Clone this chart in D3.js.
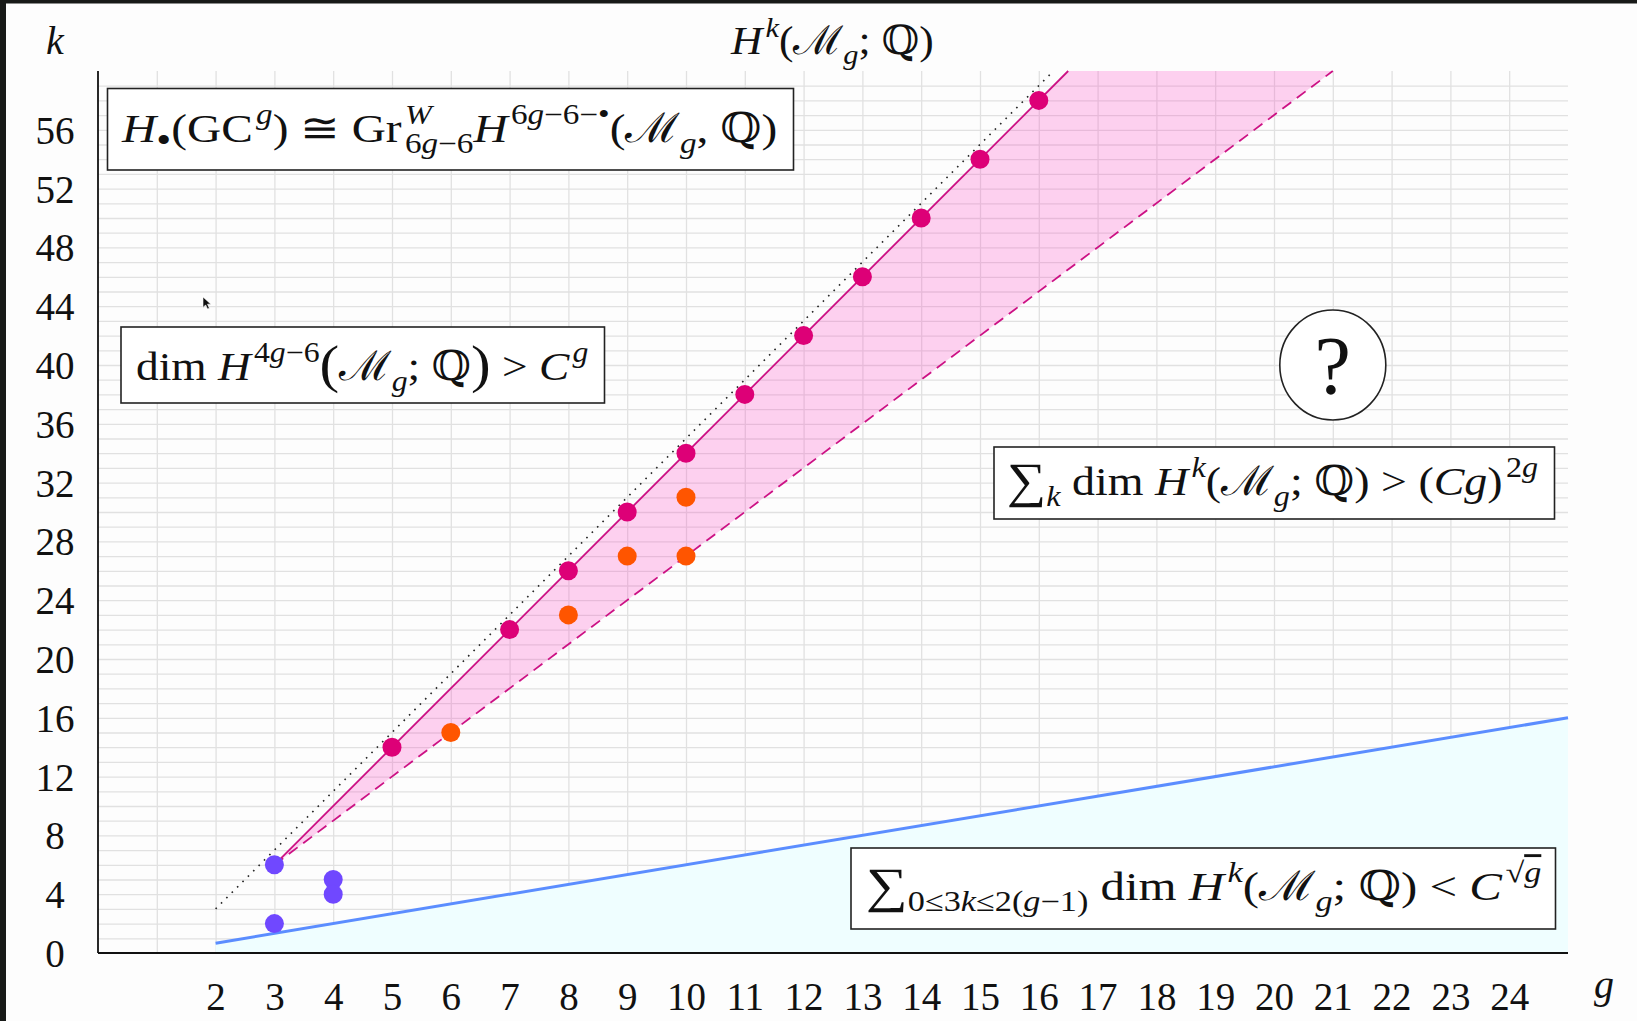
<!DOCTYPE html>
<html>
<head>
<meta charset="utf-8">
<script src="https://cdn.jsdelivr.net/npm/d3@7"></script>
<style>
  html, body { margin: 0; padding: 0; background: #fdfdfd; overflow: hidden; }
  svg { display: block; }
  text { font-family: "Liberation Serif", "DejaVu Serif", serif; fill: #111; white-space: pre; }
</style>
</head>
<body>
<svg id="chart"></svg>
<script>
// Cohomology of M_g - known classes chart

const width = 1637, height = 1021;

// tick values
const gTicks = d3.range(2, 25);
const kTicks = d3.range(0, 57, 4);

// known classes (g, k)
const purpleG = [3, 3, 4, 4];
const purpleK = [6, 2, 5, 4];
const magentaG = [5, 7, 8, 9, 10, 11, 12, 13, 14, 15, 16];
const magentaK = [14, 22, 26, 30, 34, 38, 42, 46, 50, 54, 58];
const orangeG = [6, 8, 9, 10, 10];
const orangeK = [15, 23, 27, 27, 31];

// bounding lines (end points)
const solidG = [3, 16.5], solidK = [6, 60];      // 4g-6
const dashedG = [3, 21], dashedK = [6, 60];      // 3g-3
const dottedG = [2, 16.25], dottedK = [3, 60];   // 4g-5
const blueG = [2, 25], blueK = [0.67, 16];       // 2(g-1)/3

const margin = { left: 98, right: 69, top: 71, bottom: 68 };
const x = d3.scaleLinear().domain([0, 25]).range([margin.left, width - margin.right]);
const y = d3.scaleLinear().domain([0, 60]).range([height - margin.bottom, margin.top]);

const svg = d3.select('#chart').attr('width', width).attr('height', height);

svg.append('rect').attr('width', width).attr('height', height).attr('fill', '#fdfdfd');

// grid
svg.append('g')
    .attr('transform', `translate(0,${y(0)})`)
    .call(d3.axisBottom(x).tickValues(d3.range(1, 25)).tickSize(-(y(0) - y(60))).tickFormat(''))
    .call(g => g.select('.domain').remove())
    .selectAll('line').attr('stroke', '#e1e1e1').attr('stroke-width', 1.3);
svg.append('g')
    .attr('transform', `translate(${x(0)},0)`)
    .call(d3.axisLeft(y).tickValues(d3.range(1, 60)).tickSize(-(x(25) - x(0))).tickFormat(''))
    .call(g => g.select('.domain').remove())
    .selectAll('line').attr('stroke', '#e1e1e1').attr('stroke-width', 1.3);

// region below the blue line
const blueData = blueG.map((g, i) => ({ g, k: blueK[i] }));
svg.append('path')
    .datum(blueData)
    .attr('fill', '#effeff')
    .attr('d', d3.area().x(d => x(d.g)).y0(y(0)).y1(d => y(d.k)));
svg.append('path')
    .datum(blueData)
    .attr('fill', 'none').attr('stroke', '#5b8dff').attr('stroke-width', 3)
    .attr('d', d3.line().x(d => x(d.g)).y(d => y(d.k)));

// pink band between solid and dashed lines
const solidData = solidG.map((g, i) => ({ g, k: solidK[i] }));
const dashedData = dashedG.map((g, i) => ({ g, k: dashedK[i] }));
const band = solidData.concat(dashedData.slice().reverse());
svg.append('path')
    .datum(band)
    .attr('fill', '#ff33c0').attr('fill-opacity', 0.22)
    .attr('d', d3.line().x(d => x(d.g)).y(d => y(d.k)));

const line = d3.line().x(d => x(d.g)).y(d => y(d.k));
svg.append('path')
    .datum(dottedG.map((g, i) => ({ g, k: dottedK[i] })))
    .attr('fill', 'none').attr('stroke', '#222').attr('stroke-width', 1.6)
    .attr('stroke-dasharray', '1.6 6').attr('d', line);
svg.append('path')
    .datum(solidData)
    .attr('fill', 'none').attr('stroke', '#cc1184').attr('stroke-width', 1.8).attr('d', line);
svg.append('path')
    .datum(dashedData)
    .attr('fill', 'none').attr('stroke', '#cc1184').attr('stroke-width', 1.8)
    .attr('stroke-dasharray', '11 7').attr('d', line);

// points
function drawPoints(gs, ks, color) {
    svg.append('g').selectAll('circle')
        .data(gs.map((g, i) => ({ g, k: ks[i] })))
        .join('circle')
        .attr('cx', d => x(d.g)).attr('cy', d => y(d.k))
        .attr('r', 9.5).attr('fill', color);
}
drawPoints(purpleG, purpleK, '#7048ff');
drawPoints(magentaG, magentaK, '#dd0077');
drawPoints(orangeG, orangeK, '#ff5500');

// axes
svg.append('line').attr('x1', x(0)).attr('x2', x(0)).attr('y1', y(60)).attr('y2', y(0))
    .attr('stroke', '#111').attr('stroke-width', 1.8);
svg.append('line').attr('x1', x(0)).attr('x2', x(25)).attr('y1', y(0)).attr('y2', y(0))
    .attr('stroke', '#111').attr('stroke-width', 1.8);

svg.append('g')
    .attr('transform', `translate(${x(0)},0)`)
    .call(d3.axisLeft(y).tickValues(kTicks).tickSize(0))
    .call(g => g.select('.domain').remove())
    .selectAll('text')
    .attr('x', -43).attr('dy', null).attr('y', 13.5)
    .attr('text-anchor', 'middle')
    .style('font-family', '"Liberation Serif", serif').style('font-size', '39px').attr('fill', '#111');

svg.append('g')
    .attr('transform', `translate(0,${y(0)})`)
    .call(d3.axisBottom(x).tickValues(gTicks).tickSize(0))
    .call(g => g.select('.domain').remove())
    .selectAll('text')
    .attr('dy', null).attr('y', 57)
    .style('font-family', '"Liberation Serif", serif').style('font-size', '39px').attr('fill', '#111');

// math text helper: segments with level (1 sup, -1 sub), italic, size factor
function mathText(parent, x0, y0, size, segs, targetW) {
    const t = parent.append('text').attr('x', x0).attr('y', y0).style('font-size', size + 'px');
    let cur = 0, lastW = 0, prevLvl = 0;
    segs.forEach(s => {
        const lvl = s.l || 0;
        const fs = (s.sz || (lvl ? 0.7 : 1)) * size;
        let off = lvl === 1 ? -0.43 * size : lvl === -1 ? 0.26 * size : 0;
        off += (s.o || 0) * size;
        const ts = t.append('tspan')
            .attr('dy', off - cur)
            .style('font-size', fs + 'px')
            .style('font-style', s.i ? 'italic' : 'normal')
            .text(s.t);
        if (s.stack) ts.attr('dx', -lastW);
        else if (lvl === 1 && prevLvl === 0) ts.attr('dx', 0.07 * size);
        if (s.dx) ts.attr('dx', s.dx * size);
        if (s.over) ts.style('text-decoration', 'overline');
        cur = off;
        prevLvl = lvl;
        lastW = ts.node().getComputedTextLength();
    });
    if (targetW) {
        const w = t.node().getBBox().width;
        const sx = Math.max(0.8, Math.min(1.3, targetW / w));
        t.attr('transform', `translate(${x0},0) scale(${sx},1) translate(${-x0},0)`);
    }
    return t;
}

function box(x0, y0, w, h) {
    svg.append('rect').attr('x', x0).attr('y', y0).attr('width', w).attr('height', h)
        .attr('fill', '#fff').attr('stroke', '#222').attr('stroke-width', 1.6);
}

// axis names and title
mathText(svg, 46, 54, 40, [{ t: 'k', i: 1 }]);
mathText(svg, 1594, 998, 40, [{ t: 'g', i: 1 }]);
mathText(svg, 731, 54, 40, [
    { t: 'H', i: 1 }, { t: 'k', i: 1, l: 1 }, { t: '(' }, { t: 'ℳ' }, { t: 'g', i: 1, l: -1 }, { t: '; ℚ)' }
], 204);

// annotation boxes
box(107.5, 88.5, 686, 81.5);
mathText(svg, 122, 142, 41, [
    { t: 'H', i: 1 }, { t: '•', l: -1, sz: 0.9 }, { t: '(GC' }, { t: 'g', i: 1, l: 1 },
    { t: ') ≅ Gr' }, { t: 'W', i: 1, l: 1, sz: 0.68 },
    { t: '6', l: -1, stack: 1 }, { t: 'g', i: 1, l: -1 }, { t: '−6', l: -1 },
    { t: 'H', i: 1 }, { t: '6', l: 1 }, { t: 'g', i: 1, l: 1 }, { t: '−6−•', l: 1 },
    { t: '(' }, { t: 'ℳ' }, { t: 'g', i: 1, l: -1 }, { t: ', ℚ)' }
], 656);

box(121, 327, 483.5, 76);
mathText(svg, 136, 380, 41, [
    { t: 'dim ' }, { t: 'H', i: 1 }, { t: '4', l: 1 }, { t: 'g', i: 1, l: 1 }, { t: '−6', l: 1 },
    { t: '(', sz: 1.3, o: 0.06 }, { t: 'ℳ' }, { t: 'g', i: 1, l: -1 }, { t: '; ℚ' },
    { t: ')', sz: 1.3, o: 0.06 }, { t: ' > ' }, { t: 'C', i: 1 }, { t: 'g', i: 1, l: 1 }
], 452);

box(994, 447, 560.5, 72);
mathText(svg, 1007, 495, 41, [
    { t: '∑', sz: 1.2, o: 0.05 }, { t: 'k', i: 1, l: -1 }, { t: ' dim ' }, { t: 'H', i: 1 },
    { t: 'k', i: 1, l: 1 }, { t: '(' }, { t: 'ℳ' }, { t: 'g', i: 1, l: -1 },
    { t: '; ℚ) > (' }, { t: 'Cg', i: 1 }, { t: ')' }, { t: '2', l: 1 }, { t: 'g', i: 1, l: 1 }
], 531);

box(851, 848, 704.5, 81);
mathText(svg, 866, 900, 41, [
    { t: '∑', sz: 1.2, o: 0.05 }, { t: '0≤3', l: -1 }, { t: 'k', i: 1, l: -1 }, { t: '≤2(', l: -1 },
    { t: 'g', i: 1, l: -1 }, { t: '−1)', l: -1 }, { t: ' dim ' }, { t: 'H', i: 1 },
    { t: 'k', i: 1, l: 1 }, { t: '(' }, { t: 'ℳ' }, { t: 'g', i: 1, l: -1 },
    { t: '; ℚ) < ' }, { t: 'C', i: 1 }, { t: '√', l: 1 }, { t: 'g', i: 1, l: 1, over: 1 }
], 675);

// open question
svg.append('ellipse').attr('cx', x(21)).attr('cy', y(40)).attr('rx', 53).attr('ry', 55)
    .attr('fill', '#fff').attr('stroke', '#222').attr('stroke-width', 1.6);
svg.append('text').attr('x', x(21)).attr('y', y(40) + 28).attr('text-anchor', 'middle')
    .style('font-size', '82px').text('?');

// mouse pointer left in the screen grab
svg.append('path')
    .attr('transform', 'translate(203,297) scale(0.75)')
    .attr('d', 'M0,0 L0,14 L3.5,10.5 L6,16 L8.5,15 L6,9.5 L10.5,9.5 Z')
    .attr('fill', '#111').attr('stroke', '#fff').attr('stroke-width', 0.8);

// dark screen frame (top and left)
svg.append('rect').attr('x', 0).attr('y', 0).attr('width', width).attr('height', 3.5).attr('fill', '#181a18');
svg.append('rect').attr('x', 0).attr('y', 0).attr('width', 6).attr('height', height).attr('fill', '#181a18');
</script>
</body>
</html>
